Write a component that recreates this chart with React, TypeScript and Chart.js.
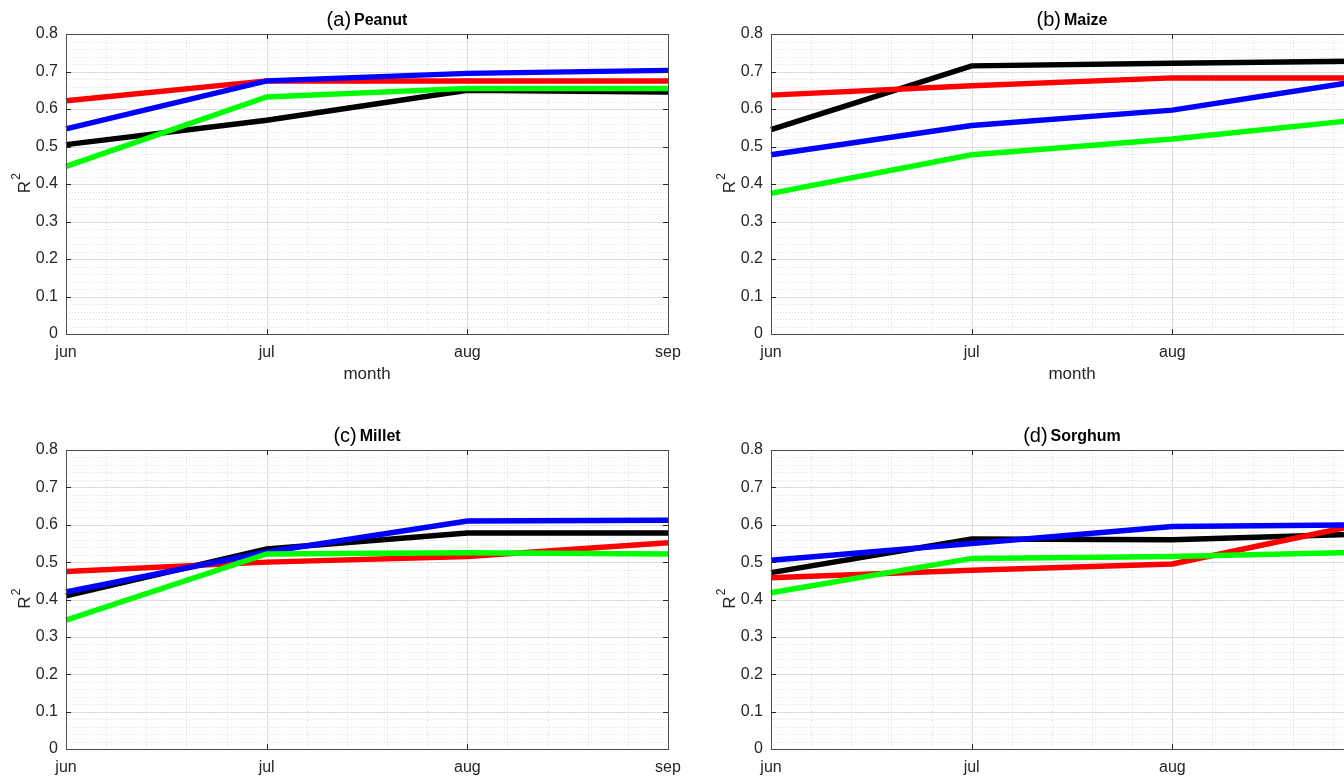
import React, { useEffect, useRef } from 'react';
import { Chart, registerables } from 'chart.js';
Chart.register(...registerables);

const months = ['jun', 'jul', 'aug', 'sep'];
const yTickValues = [0, 0.1, 0.2, 0.3, 0.4, 0.5, 0.6, 0.7, 0.8];

// (a) Peanut
const peanutBlack = [0.505, 0.57, 0.65, 0.645];
const peanutRed = [0.622, 0.675, 0.675, 0.675];
const peanutBlue = [0.547, 0.675, 0.695, 0.703];
const peanutGreen = [0.447, 0.632, 0.655, 0.655];
// (b) Maize
const maizeBlack = [0.545, 0.715, 0.722, 0.728];
const maizeRed = [0.637, 0.662, 0.683, 0.683];
const maizeBlue = [0.478, 0.556, 0.597, 0.68];
const maizeGreen = [0.375, 0.478, 0.52, 0.575];
// (c) Millet
const milletBlack = [0.41, 0.535, 0.578, 0.578];
const milletRed = [0.475, 0.5, 0.515, 0.552];
const milletBlue = [0.42, 0.527, 0.61, 0.612];
const milletGreen = [0.345, 0.522, 0.525, 0.522];
// (d) Sorghum
const sorghumBlack = [0.472, 0.562, 0.56, 0.576];
const sorghumRed = [0.458, 0.478, 0.495, 0.608];
const sorghumBlue = [0.505, 0.55, 0.595, 0.6];
const sorghumGreen = [0.418, 0.51, 0.515, 0.527];

const FONT = "'Liberation Sans', Arial, Helvetica, sans-serif";
const TEXT = '#262626';

type Panel = {
  tag: string;
  name: string;
  left: number;
  top: number;
  width: number;
  height: number;
  black: number[];
  red: number[];
  blue: number[];
  green: number[];
};

const panels: Panel[] = [
  { tag: '(a)', name: 'Peanut', left: 66, top: 34, width: 602, height: 300, black: peanutBlack, red: peanutRed, blue: peanutBlue, green: peanutGreen },
  { tag: '(b)', name: 'Maize', left: 771, top: 34, width: 602, height: 300, black: maizeBlack, red: maizeRed, blue: maizeBlue, green: maizeGreen },
  { tag: '(c)', name: 'Millet', left: 66, top: 450, width: 602, height: 299, black: milletBlack, red: milletRed, blue: milletBlue, green: milletGreen },
  { tag: '(d)', name: 'Sorghum', left: 771, top: 450, width: 602, height: 299, black: sorghumBlack, red: sorghumRed, blue: sorghumBlue, green: sorghumGreen },
];

const PAD_L = 16;
const Y_W = 50;
const PAD_T = 34;
const PAD_R = 30;
const X_H = 58;

const matlabPlugin = {
  id: 'matlabAxes',
  beforeDatasetsDraw(chart: any) {
    const { ctx, chartArea } = chart;
    const { left, right, top, bottom } = chartArea;
    const x = chart.scales.x;
    const y = chart.scales.y;
    ctx.save();
    // minor grid (dotted)
    ctx.strokeStyle = '#dcdcdc';
    ctx.lineWidth = 1;
    ctx.setLineDash([1, 2]);
    ctx.beginPath();
    for (let i = 0; i < months.length - 1; i++) {
      for (let k = 1; k < 5; k++) {
        const px = Math.round(x.getPixelForValue(i + k / 5)) + 0.5;
        ctx.moveTo(px, top);
        ctx.lineTo(px, bottom);
      }
    }
    for (let j = 0; j < 40; j++) {
      if (j % 5 === 0) continue;
      const py = Math.round(y.getPixelForValue(j * 0.02)) + 0.5;
      ctx.moveTo(left, py);
      ctx.lineTo(right, py);
    }
    ctx.stroke();
    // major grid (solid)
    ctx.setLineDash([]);
    ctx.strokeStyle = '#dedede';
    ctx.beginPath();
    for (let i = 1; i < months.length - 1; i++) {
      const px = Math.round(x.getPixelForValue(i)) + 0.5;
      ctx.moveTo(px, top);
      ctx.lineTo(px, bottom);
    }
    for (let j = 1; j < yTickValues.length - 1; j++) {
      const py = Math.round(y.getPixelForValue(yTickValues[j])) + 0.5;
      ctx.moveTo(left, py);
      ctx.lineTo(right, py);
    }
    ctx.stroke();
    ctx.restore();
  },
  afterDatasetsDraw(chart: any, _args: any, opts: any) {
    const { ctx, chartArea } = chart;
    const { left, right, top, bottom } = chartArea;
    const x = chart.scales.x;
    const y = chart.scales.y;
    ctx.save();
    // box
    ctx.strokeStyle = '#4d4d4d';
    ctx.lineWidth = 1;
    ctx.strokeRect(Math.round(left) + 0.5, Math.round(top) + 0.5, Math.round(right - left), Math.round(bottom - top));
    // inward ticks
    ctx.strokeStyle = '#262626';
    ctx.beginPath();
    const tl = 5;
    for (let j = 1; j < yTickValues.length - 1; j++) {
      const py = Math.round(y.getPixelForValue(yTickValues[j])) + 0.5;
      ctx.moveTo(left, py);
      ctx.lineTo(left + tl, py);
      ctx.moveTo(right - tl, py);
      ctx.lineTo(right, py);
    }
    for (let i = 1; i < months.length - 1; i++) {
      const px = Math.round(x.getPixelForValue(i)) + 0.5;
      ctx.moveTo(px, bottom);
      ctx.lineTo(px, bottom - tl);
      ctx.moveTo(px, top);
      ctx.lineTo(px, top + tl);
    }
    ctx.stroke();
    // title
    const cx = (left + right) / 2;
    const ty = top - 14;
    ctx.fillStyle = '#000000';
    ctx.textBaseline = 'middle';
    const tagFont = `20px ${FONT}`;
    const nameFont = `bold 16px ${FONT}`;
    ctx.font = tagFont;
    const w1 = ctx.measureText(opts.tag).width;
    ctx.font = nameFont;
    const w2 = ctx.measureText(opts.name).width;
    const gap = 3;
    const start = cx - (w1 + gap + w2) / 2;
    ctx.font = tagFont;
    ctx.textAlign = 'left';
    ctx.fillText(opts.tag, start, ty);
    ctx.font = nameFont;
    ctx.fillText(opts.name, start + w1 + gap, ty + 1);
    // y label R^2
    ctx.save();
    ctx.translate(left - 41, (top + bottom) / 2);
    ctx.rotate(-Math.PI / 2);
    ctx.fillStyle = TEXT;
    ctx.font = `17px ${FONT}`;
    ctx.textAlign = 'center';
    ctx.textBaseline = 'middle';
    const rw = ctx.measureText('R').width;
    ctx.fillText('R', -3, 0);
    ctx.font = `12px ${FONT}`;
    ctx.textAlign = 'left';
    ctx.fillText('2', -3 + rw / 2 + 1, -8);
    ctx.restore();
    // x label
    ctx.fillStyle = TEXT;
    ctx.font = `17px ${FONT}`;
    ctx.textAlign = 'center';
    ctx.textBaseline = 'middle';
    ctx.fillText('month', cx, bottom + 40);
    ctx.restore();
  },
};

function PanelChart({ panel }: { panel: Panel }) {
  const ref = useRef<HTMLCanvasElement | null>(null);
  const cw = panel.width + PAD_L + Y_W + PAD_R;
  const ch = panel.height + PAD_T + X_H;
  useEffect(() => {
    if (!ref.current) return;
    const chart = new Chart(ref.current, {
      type: 'line',
      data: {
        labels: months,
        datasets: [
          { data: panel.green, borderColor: '#00ff00', backgroundColor: '#00ff00' },
          { data: panel.blue, borderColor: '#0000ff', backgroundColor: '#0000ff' },
          { data: panel.red, borderColor: '#ff0000', backgroundColor: '#ff0000' },
          { data: panel.black, borderColor: '#000000', backgroundColor: '#000000' },
        ],
      },
      options: {
        animation: false,
        responsive: false,
        maintainAspectRatio: false,
        layout: { padding: { left: PAD_L, top: PAD_T, right: PAD_R, bottom: 0 } },
        elements: {
          point: { radius: 0, hoverRadius: 0 },
          line: { tension: 0, borderWidth: 5.5, borderJoinStyle: 'miter', borderCapStyle: 'butt' },
        },
        plugins: {
          legend: { display: false },
          tooltip: { enabled: false },
          title: { display: false },
          matlabAxes: { tag: panel.tag, name: panel.name },
        } as any,
        scales: {
          x: {
            type: 'category',
            offset: false,
            grid: { display: false, drawTicks: false },
            border: { display: false },
            ticks: {
              color: TEXT,
              font: { family: FONT, size: 16 },
              padding: 9,
              maxRotation: 0,
              autoSkip: false,
            },
            afterFit: (s: any) => { s.height = X_H; },
          },
          y: {
            type: 'linear',
            min: 0,
            max: 0.8,
            grid: { display: false, drawTicks: false },
            border: { display: false },
            ticks: {
              stepSize: 0.1,
              color: TEXT,
              font: { family: FONT, size: 16 },
              padding: 8,
              callback: (v: any) => (Math.abs(v) < 1e-9 ? '0' : Number(v).toFixed(1)),
            },
            afterFit: (s: any) => { s.width = Y_W; },
          },
        },
      } as any,
      plugins: [matlabPlugin],
    });
    return () => chart.destroy();
  }, [panel]);
  return (
    <canvas
      ref={ref}
      width={cw}
      height={ch}
      style={{ position: 'absolute', left: panel.left - PAD_L - Y_W, top: panel.top - PAD_T, width: cw, height: ch }}
    />
  );
}

export default function App() {
  return (
    <div style={{ position: 'fixed', left: 0, top: 0, width: 1344, height: 777, overflow: 'hidden', background: '#ffffff' }}>
      {panels.map((p) => (
        <PanelChart key={p.tag} panel={p} />
      ))}
    </div>
  );
}
